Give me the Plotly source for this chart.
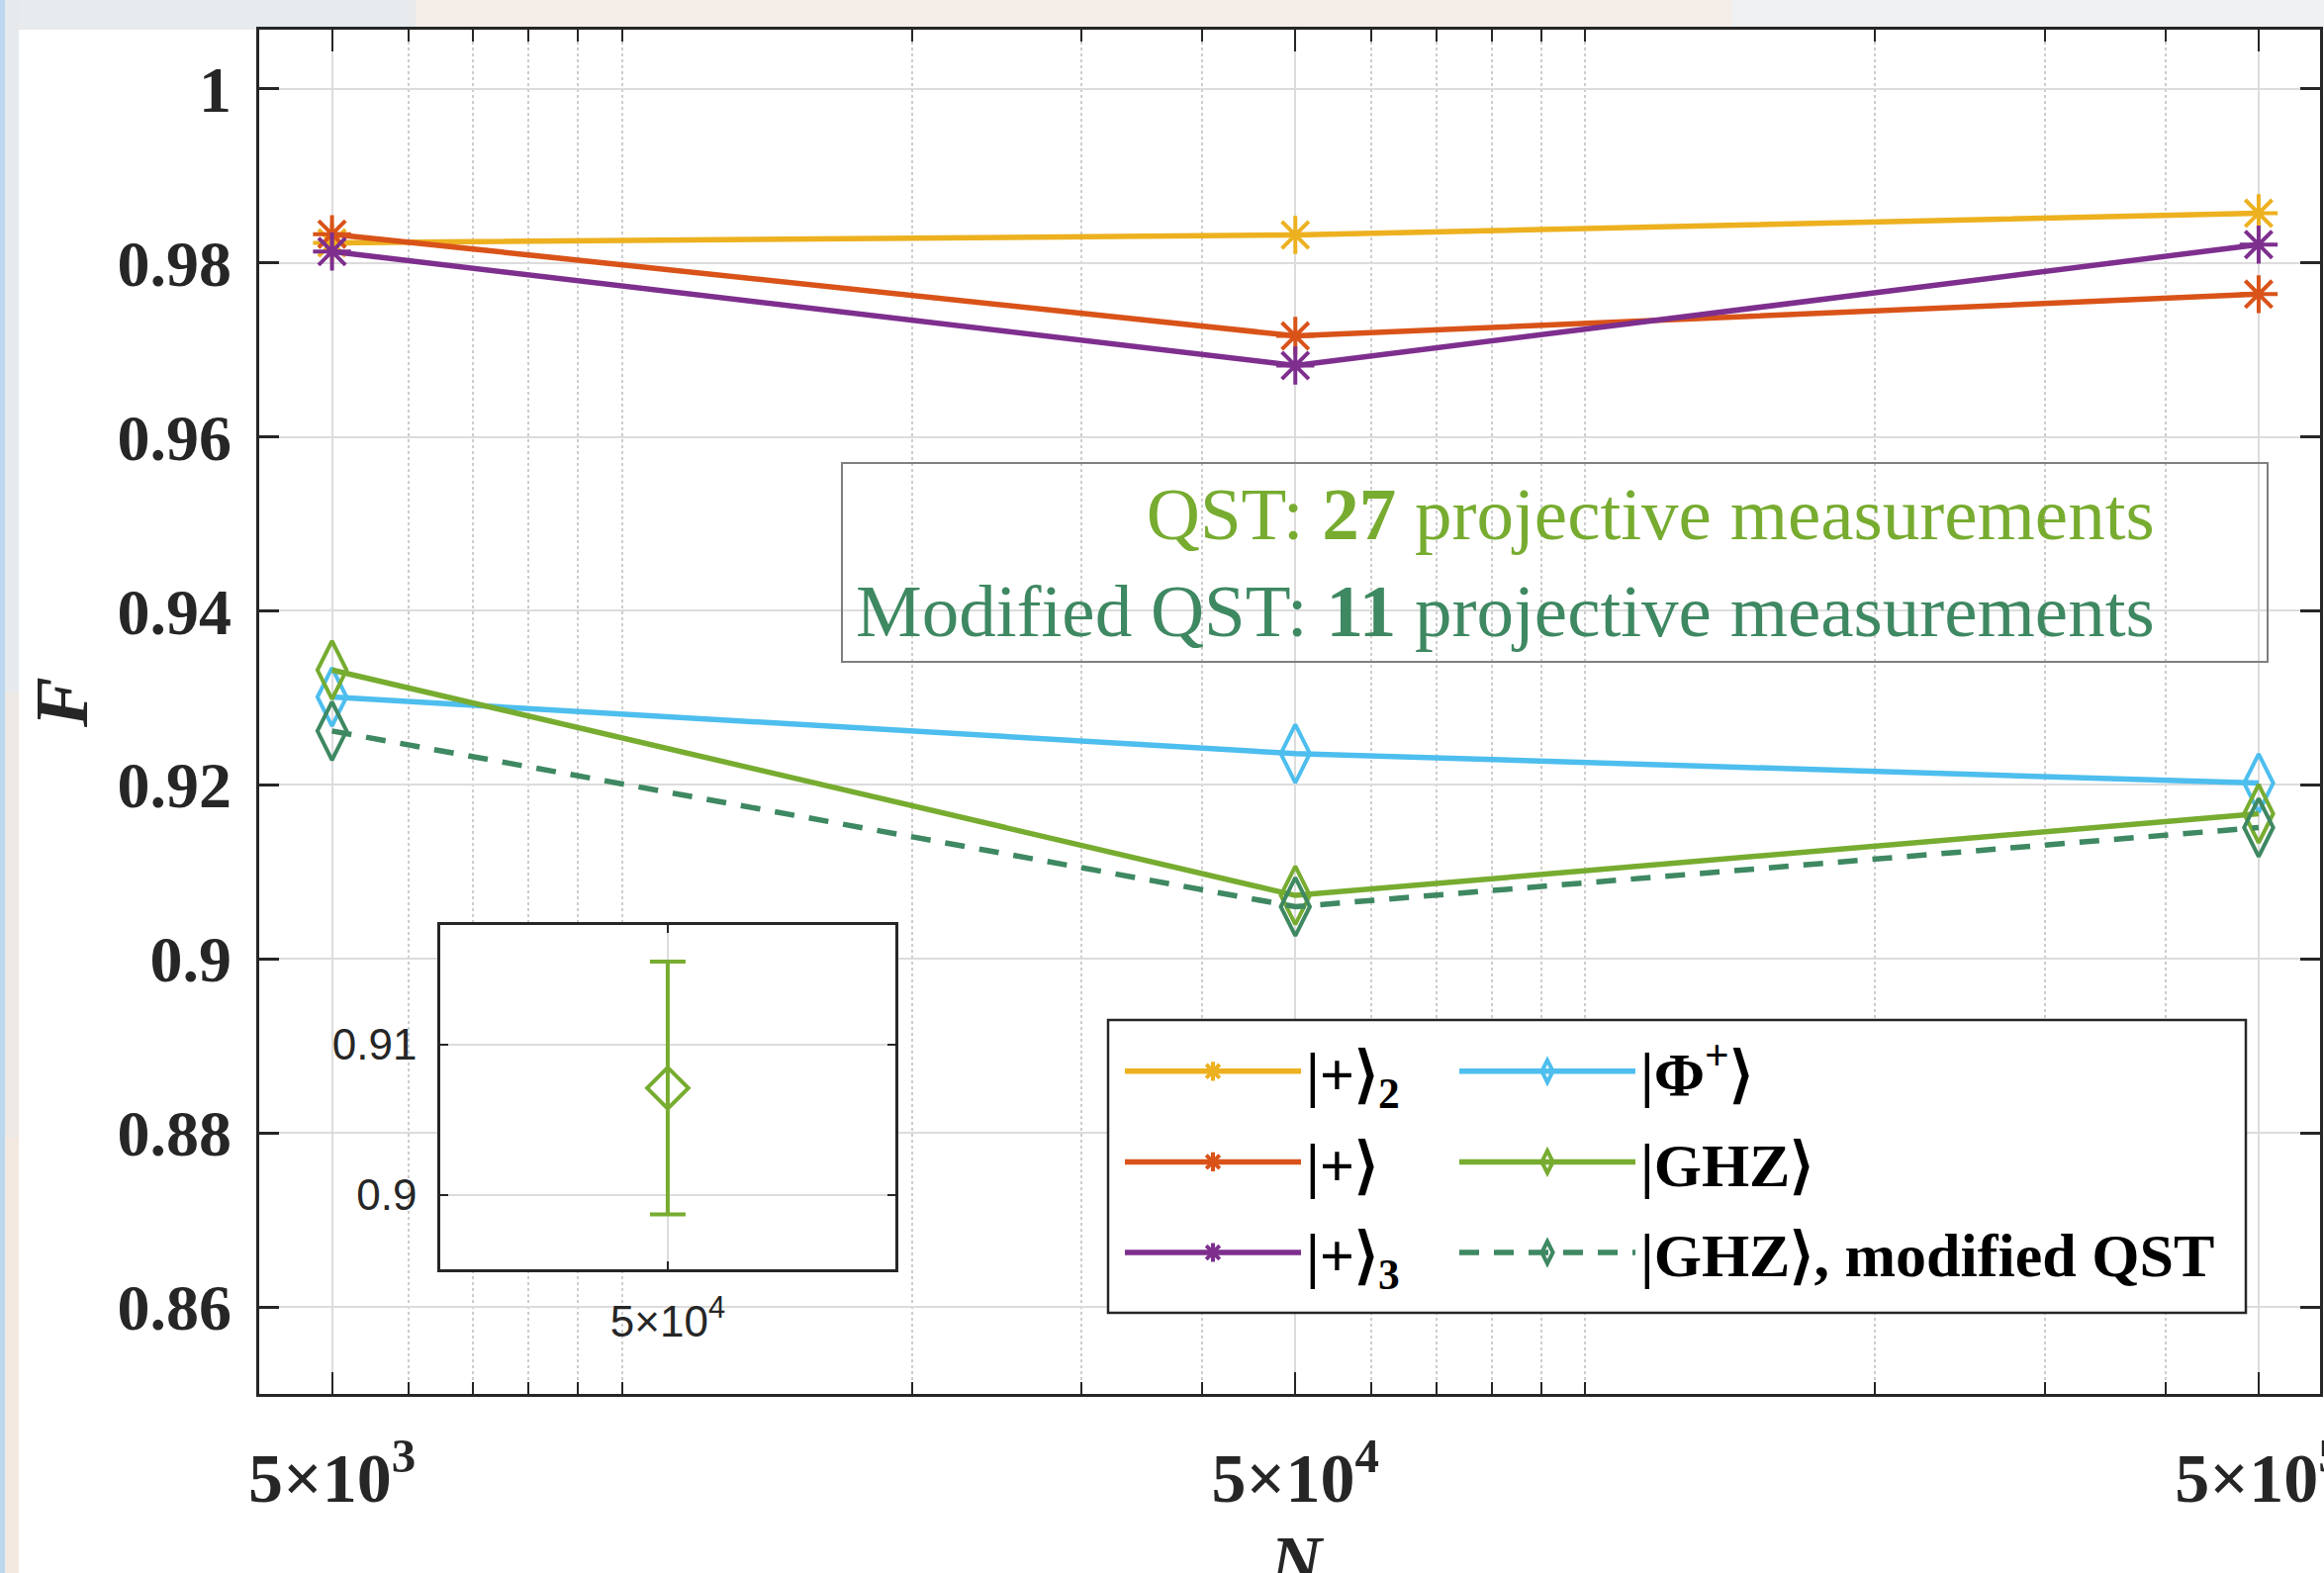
import plotly.graph_objects as go

# ---------------- data ----------------
N = [5e3, 5e4, 5e5]
F_plus2 = [0.9823, 0.9832, 0.9857]
F_plus = [0.9833, 0.9716, 0.9764]
F_plus3 = [0.9813, 0.9682, 0.9821]
F_phi = [0.9301, 0.9236, 0.9202]
F_ghz = [0.9332, 0.9073, 0.9167]
F_ghz_mod = [0.9262, 0.9060, 0.9151]

inset_N = [5e4]
inset_F = [0.9071]
inset_err = [0.0084]

x_tickvals = [5e3, 5e4, 5e5]
x_ticktext = ["5×10<sup>3</sup>", "5×10<sup>4</sup>", "5×10<sup>5</sup>"]
x_minor = [6e3, 7e3, 8e3, 9e3, 1e4, 2e4, 3e4, 4e4,
           6e4, 7e4, 8e4, 9e4, 1e5, 2e5, 3e5, 4e5]
y_tickvals = [0.86, 0.88, 0.90, 0.92, 0.94, 0.96, 0.98, 1.0]
y_ticktext = ["0.86", "0.88", "0.9", "0.92", "0.94", "0.96", "0.98", "1"]
inset_y_tickvals = [0.90, 0.91]
inset_y_ticktext = ["0.9", "0.91"]
inset_x_ticktext = ["5×10<sup>4</sup>"]

names = ["|+⟩<sub>2</sub>", "|+⟩", "|+⟩<sub>3</sub>",
         "|Φ<sup>+</sup>⟩", "|GHZ⟩", "|GHZ⟩, modified QST"]

C_YEL = "#EDB120"
C_ORA = "#D95319"
C_PUR = "#7E2F8E"
C_BLU = "#4DBEEE"
C_GRN = "#77AC30"
C_DKG = "#3E8862"
AX = "#262626"

W, H = 2349, 1590
L, R, T, B = 262, 4, 30, 181
PW, PH = W - L - R, H - T - B


def px(xp):
    return (xp - L) / PW


def py(yp):
    return (H - B - yp) / PH


fig = go.Figure()

series = [
    (F_plus2, C_YEL, "asterisk-open", 32, "solid", "legend"),
    (F_plus, C_ORA, "asterisk-open", 32, "solid", "legend"),
    (F_plus3, C_PUR, "asterisk-open", 32, "solid", "legend"),
    (F_phi, C_BLU, "diamond-tall-open", 42, "solid", "legend2"),
    (F_ghz, C_GRN, "diamond-tall-open", 42, "solid", "legend2"),
    (F_ghz_mod, C_DKG, "diamond-tall-open", 42, "20px,15px", "legend2"),
]
for i, ((vals, col, sym, sz, dash, lg), nm) in enumerate(zip(series, names)):
    fig.add_trace(go.Scatter(
        x=N, y=vals, name=nm, mode="lines+markers", legend=lg,
        legendgroup="g%d" % i,
        line=dict(color=col, width=5.5, dash=dash),
        marker=dict(symbol=sym, size=sz, color=col, line=dict(color=col, width=4)),
    ))

# inset
fig.add_trace(go.Scatter(
    x=inset_N, y=inset_F, mode="markers", showlegend=False,
    xaxis="x2", yaxis="y2",
    marker=dict(symbol="diamond-open", size=32, color=C_GRN, line=dict(color=C_GRN, width=4)),
    error_y=dict(type="data", array=inset_err, color=C_GRN, thickness=4, width=18),
))

fig.update_layout(
    width=W, height=H,
    margin=dict(l=L, r=R, t=T, b=B, autoexpand=False),
    paper_bgcolor="white", plot_bgcolor="white",
    xaxis=dict(
        type="log", range=[3.6234, 5.7627],
        tickmode="array", tickvals=x_tickvals, ticktext=x_ticktext,
        ticks="inside", ticklen=22, tickwidth=2, tickcolor=AX,
        showline=True, linecolor=AX, linewidth=2.5, mirror="allticks",
        showgrid=True, gridcolor="#dcdcdc", gridwidth=2, zeroline=False,
        tickfont=dict(family="Liberation Serif", size=70, color=AX, weight="bold"),
        ticklabelstandoff=22, ticklabeloverflow="allow",
        minor=dict(tickmode="array", tickvals=x_minor, ticks="inside", ticklen=12,
                   tickwidth=2, tickcolor=AX, showgrid=True, gridcolor="#cdcdcd",
                   griddash="dot", gridwidth=2),
    ),
    yaxis=dict(
        range=[0.85, 1.0068],
        tickmode="array", tickvals=y_tickvals, ticktext=y_ticktext,
        ticks="inside", ticklen=20, tickwidth=2.5, tickcolor=AX,
        showline=True, linecolor=AX, linewidth=2.5, mirror="allticks",
        showgrid=True, gridcolor="#dcdcdc", gridwidth=2, zeroline=False,
        tickfont=dict(family="Liberation Serif", size=66, color=AX, weight="bold"),
        ticklabelstandoff=12, ticklabeloverflow="allow",
    ),
    xaxis2=dict(
        type="log", range=[4.619, 4.779], domain=[px(445), px(905)], anchor="y2",
        tickmode="array", tickvals=inset_N, ticktext=inset_x_ticktext,
        ticks="inside", ticklen=8, tickwidth=2, tickcolor=AX,
        showline=True, linecolor=AX, linewidth=2.5, mirror="allticks",
        showgrid=True, gridcolor="#dcdcdc", gridwidth=2, zeroline=False,
        tickfont=dict(family="Liberation Sans", size=44, color=AX),
        ticklabelstandoff=12,
    ),
    yaxis2=dict(
        range=[0.89505, 0.91794], domain=[py(1283), py(935)], anchor="x2",
        tickmode="array", tickvals=inset_y_tickvals, ticktext=inset_y_ticktext,
        ticks="inside", ticklen=8, tickwidth=2, tickcolor=AX,
        showline=True, linecolor=AX, linewidth=2.5, mirror="allticks",
        showgrid=True, gridcolor="#dcdcdc", gridwidth=2, zeroline=False,
        tickfont=dict(family="Liberation Sans", size=44, color=AX),
        ticklabelstandoff=12,
    ),
    legend=dict(
        x=px(1132), xanchor="left", y=py(1036), yanchor="top",
        bgcolor="rgba(0,0,0,0)", borderwidth=0, itemwidth=178,
        font=dict(family="Liberation Serif", size=62, color="black", weight="bold"),
        tracegroupgap=8, itemclick=False,
    ),
    legend2=dict(
        x=px(1470), xanchor="left", y=py(1036), yanchor="top",
        bgcolor="rgba(0,0,0,0)", borderwidth=0, itemwidth=178,
        font=dict(family="Liberation Serif", size=62, color="black", weight="bold"),
        tracegroupgap=8, itemclick=False,
    ),
    showlegend=True,
)

shapes = [
    # screenshot border decorations
    dict(type="rect", xref="paper", yref="paper", x0=px(0), x1=px(W), y0=py(30), y1=py(0),
         fillcolor="#f4ede8", line=dict(width=0), layer="below"),
    dict(type="rect", xref="paper", yref="paper", x0=px(0), x1=px(420), y0=py(30), y1=py(0),
         fillcolor="#e7ebed", line=dict(width=0), layer="below"),
    dict(type="rect", xref="paper", yref="paper", x0=px(1750), x1=px(W), y0=py(30), y1=py(0),
         fillcolor="#eff0f2", line=dict(width=0), layer="below"),
    dict(type="rect", xref="paper", yref="paper", x0=px(0), x1=px(19), y0=py(H), y1=py(0),
         fillcolor="#ede9e4", line=dict(width=0), layer="below"),
    dict(type="rect", xref="paper", yref="paper", x0=px(0), x1=px(19), y0=py(700), y1=py(0),
         fillcolor="#e6eaec", line=dict(width=0), layer="below"),
    dict(type="rect", xref="paper", yref="paper", x0=px(0), x1=px(19), y0=py(H), y1=py(1150),
         fillcolor="#f4e9e0", line=dict(width=0), layer="below"),
    dict(type="rect", xref="paper", yref="paper", x0=px(0), x1=px(5), y0=py(H), y1=py(0),
         fillcolor="#bcd7ee", line=dict(width=0), layer="below"),
    # text box frame
    dict(type="rect", xref="paper", yref="paper", x0=px(851), x1=px(2292), y0=py(669), y1=py(468),
         fillcolor="rgba(0,0,0,0)", line=dict(color="#7f7f7f", width=2), layer="above"),
    # legend frame
    dict(type="rect", xref="paper", yref="paper", x0=px(1120), x1=px(2270), y0=py(1327), y1=py(1031),
         fillcolor="white", line=dict(color=AX, width=2.5), layer="above"),
]
fig.update_layout(shapes=shapes)

annotations = [
    dict(xref="paper", yref="paper", x=px(2180), y=py(568), xanchor="right", yanchor="middle",
         align="right", showarrow=False,
         text=("<span style='color:%s'>QST: <b>27</b> projective measurements</span><br>"
               "<span style='color:%s'>Modified QST: <b>11</b> projective measurements</span>")
              % (C_GRN, C_DKG),
         font=dict(family="Liberation Serif", size=75)),
    dict(xref="paper", yref="paper", x=px(62), y=py(710), xanchor="center", yanchor="middle",
         showarrow=False, text="F", textangle=-90,
         font=dict(family="Liberation Serif", size=76, color=AX, weight="bold", style="italic")),
    dict(xref="paper", yref="paper", x=px(1311), y=py(1536), xanchor="center", yanchor="top",
         showarrow=False, text="N",
         font=dict(family="Liberation Serif", size=72, color=AX, weight="bold", style="italic")),
]
fig.update_layout(annotations=annotations)

fig.write_html(
    "out.html",
    config={"displayModeBar": False},
    post_script="document.body.style.margin='0';document.body.style.overflow='hidden';",
)
